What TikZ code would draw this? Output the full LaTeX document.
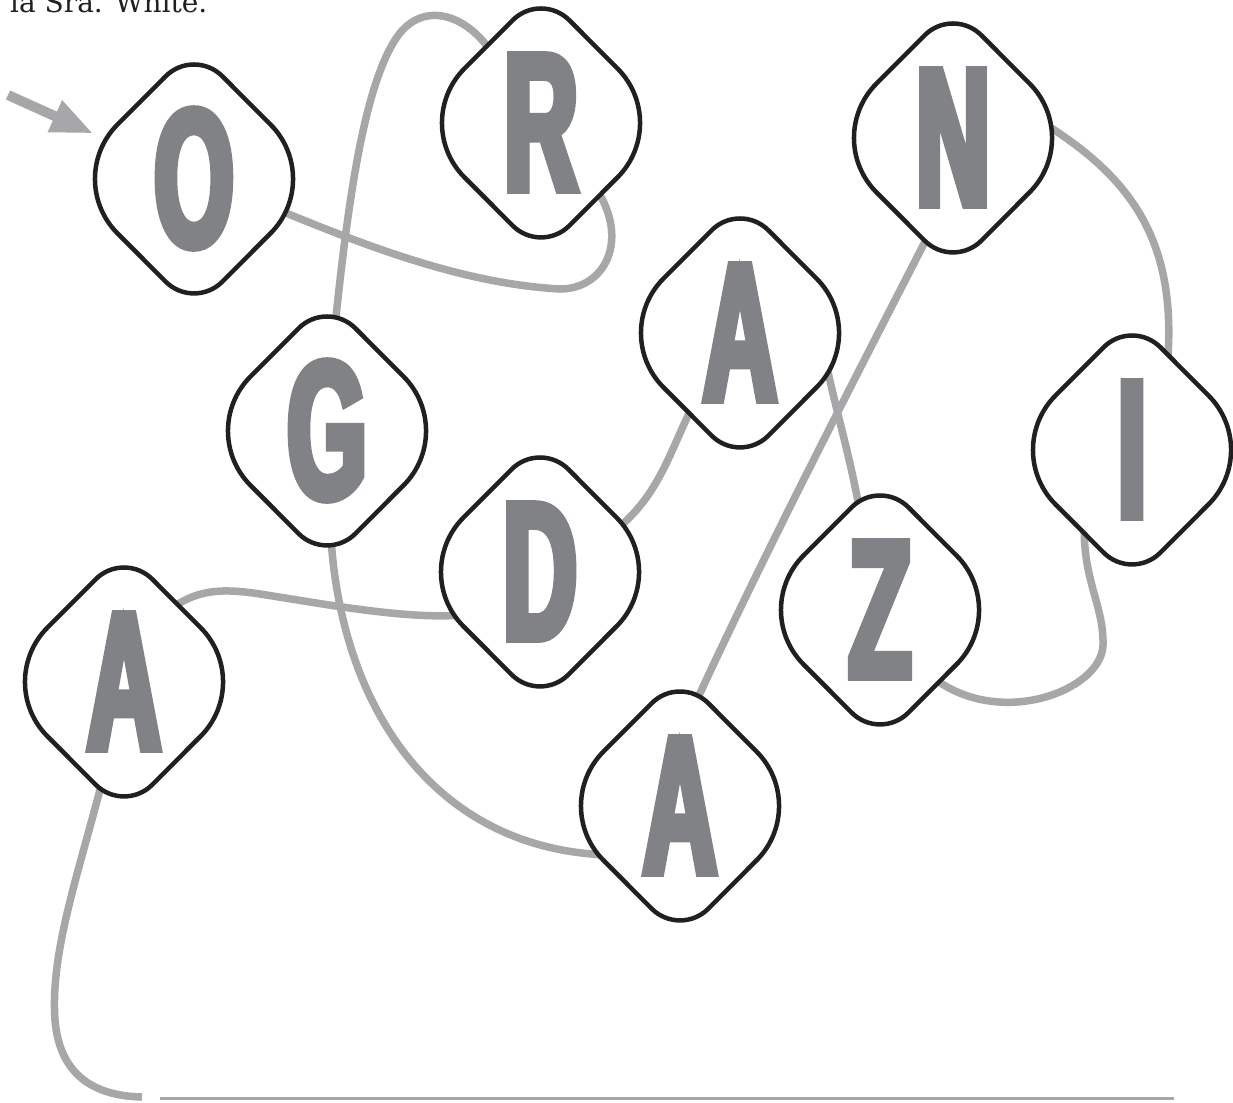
\documentclass[tikz,border=0pt]{standalone}
\usepackage{fontspec}
\newfontfamily\stencilfont[FakeStretch=0.52,FakeBold=4]{Liberation Sans}
\newfontfamily\capfont{DejaVu Serif}
\usetikzlibrary{arrows.meta}
\pgfdeclarelayer{bg}
\pgfsetlayers{bg,main}
\definecolor{linegray}{RGB}{167,167,169}
\definecolor{lettergray}{RGB}{128,130,133}
\definecolor{inkblack}{RGB}{35,31,32}
\tikzset{
  dmd/.style={draw=inkblack, line width=4.5pt, fill=white, line join=round},
  lettr/.style={circle, minimum size=170pt, inner sep=0pt, text=lettergray,
     font=\stencilfont\bfseries\fontsize{196}{196}\selectfont, text height=144pt, text depth=10pt},
  conn/.style={draw=linegray, line width=7.5pt},
  pointer/.style={draw=linegray, line width=10pt, -{Triangle[length=42pt,width=32pt]}},
  rulestyle/.style={draw=linegray, line width=3pt},
}
\newcommand\lettercard[3]{%
  \path[dmd] (#2) ++(-28.28,102.7) arc[start angle=135,end angle=45,radius=40]
     -- ++(48.2,-48.3) arc[start angle=45,end angle=-45,radius=77]
     -- ++(-48.2,-48.3) arc[start angle=-45,end angle=-135,radius=40]
     -- ++(-48.2,48.3) arc[start angle=225,end angle=135,radius=77] -- cycle;
  \node[lettr] (#1) at (#2) {#3};}
\begin{document}
\begin{tikzpicture}[x=1pt,y=-1pt]
\useasboundingbox (0,0) rectangle (1233,1102);
\begin{pgfonlayer}{bg}
  \fill[white] (0,0) rectangle (1233,1102);
\end{pgfonlayer}
\lettercard{nO}{194,179}{O}
\lettercard{nR}{541,123}{R}
\lettercard{nN}{953,138}{N}
\lettercard{nAa}{740,333}{A}
\lettercard{nG}{327,431}{G}
\lettercard{nI}{1132,450}{I}
\lettercard{nD}{540,572}{D}
\lettercard{nZ}{880,610}{Z}
\lettercard{nAb}{124,682}{A}
\lettercard{nAc}{680,806}{A}
\coordinate (arrS) at (8,95);
\coordinate (tailEnd) at (142,1097);
\coordinate (ruleL) at (160,1098);
\coordinate (ruleR) at (1174,1098);
\begin{pgfonlayer}{bg}
  \draw[conn] (nO.-20) .. controls (380,252) and (470,284) .. (560,289)
              .. controls (605,289) and (630,240) .. (nR.-50);
  \draw[conn] (nR.125) .. controls (465,12) and (420,0) .. (395,40)
              .. controls (360,95) and (345,230) .. (nG.86);
  \draw[conn] (nG.-88) .. controls (335,700) and (430,850) .. (nAc.215);
  \draw[conn] (nAc.85) .. controls (760,560) and (880,330) .. (nN.-102);
  \draw[conn] (nN.13) .. controls (1130,175) and (1180,240) .. (nI.66);
  \draw[conn] (nI.236) .. controls (1082,580) and (1104,605) .. (1103,645)
              .. controls (1102,690) and (1000,730) .. (nZ.-52);
  \draw[conn] (nAa.-12) .. controls (835,410) and (852,460) .. (nZ.102);
  \draw[conn] (nAa.237) .. controls (670,450) and (660,495) .. (nD.29);
  \draw[conn] (nD.210) .. controls (410,620) and (330,605) .. (260,594)
              .. controls (215,587) and (195,592) .. (nAb.58);
  \draw[conn] (nAb.-102) .. controls (80,870) and (50,950) .. (55,1020)
              .. controls (60,1080) and (100,1096) .. (tailEnd);
\end{pgfonlayer}
\draw[pointer, shorten >=24pt] (arrS) -- (nO);
\draw[rulestyle] (ruleL) -- (ruleR);
\node[anchor=base west, inner sep=0pt, text=inkblack, font=\capfont\fontsize{28}{28}\selectfont] (caption) at (10,13) {la Sra. White.};
\end{tikzpicture}
\end{document}
